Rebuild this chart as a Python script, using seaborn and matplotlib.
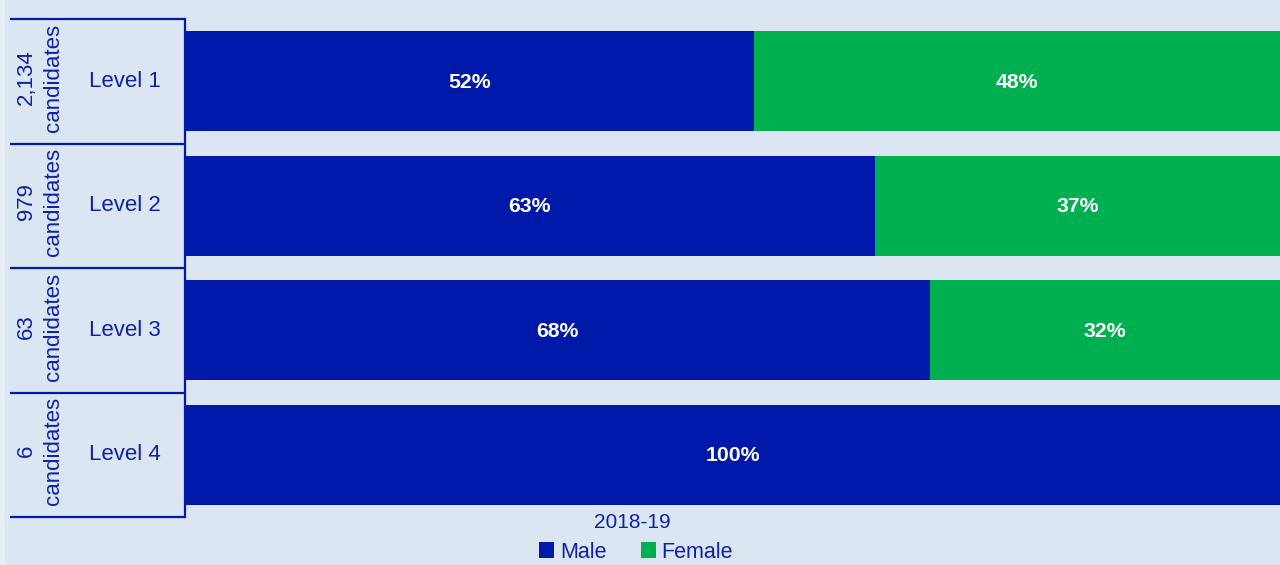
import matplotlib
matplotlib.use("Agg")
import matplotlib.pyplot as plt
import matplotlib.transforms as mtransforms
from matplotlib.patches import Patch, Rectangle
import seaborn as sns
import pandas as pd

# Candidates by level and gender, 2018-19
levels = ["Level 1", "Level 2", "Level 3", "Level 4"]
candidate_counts = ["2,134", "979", "63", "6"]
male_pct = [52, 63, 68, 100]
female_pct = [48, 37, 32, 0]
year_label = "2018-19"
series_names = ["Male", "Female"]

BG = "#dce6f2"
MALE_C = "#0019a8"
FEMALE_C = "#00b050"
INK = "#0d22a6"

sns.set_theme(style="white", rc={"axes.facecolor": BG, "figure.facecolor": BG})
plt.rcParams["font.family"] = ["Liberation Sans", "DejaVu Sans"]

W, H = 1280, 565
fig = plt.figure(figsize=(W / 100, H / 100), dpi=100, facecolor=BG)
# thin pale margin along the left edge
fig.patches.append(Rectangle((0, 0), 5 / W, 1, transform=fig.transFigure,
                             facecolor="#e8eef7", edgecolor="none", zorder=0))
ax = fig.add_axes([185 / W, 1 - 517 / H, 1 - 185 / W, (517 - 19) / H])
ax.set_facecolor(BG)

df = pd.DataFrame({
    "level": levels,
    "male": male_pct,
    "total": [m + f for m, f in zip(male_pct, female_pct)],
})

# Stacked bars: full (male + female) in green, male share drawn over it
sns.barplot(data=df, y="level", x="total", orient="h", color=FEMALE_C,
            saturation=1, width=0.8, ax=ax, linewidth=0)
sns.barplot(data=df, y="level", x="male", orient="h", color=MALE_C,
            saturation=1, width=0.8, ax=ax, linewidth=0)

ax.set_xlim(0, 100)
ax.set_ylim(len(levels) - 0.5, -0.5)
ax.set_xticks([])
ax.set_yticks([])
ax.set_xlabel("")
ax.set_ylabel("")
for side in ["top", "right", "bottom"]:
    ax.spines[side].set_visible(False)
ax.spines["left"].set_color(MALE_C)
ax.spines["left"].set_linewidth(1.6)

# Percentage labels inside each segment
for i, (m, f) in enumerate(zip(male_pct, female_pct)):
    if m > 0:
        ax.text(m / 2, i + 0.01, f"{m}%", ha="center", va="center", color="white",
                fontsize=15.3, fontweight="bold")
    if f > 0:
        ax.text(m + f / 2, i + 0.01, f"{f}%", ha="center", va="center", color="white",
                fontsize=15.3, fontweight="bold")

# Row headers to the left of the bars
trans = mtransforms.blended_transform_factory(ax.transAxes, ax.transData)
ax_w = W - 185
for i, (lvl, n) in enumerate(zip(levels, candidate_counts)):
    ax.text((125 - 185) / ax_w, i, lvl, transform=trans, ha="center",
            va="center", color=INK, fontsize=16, clip_on=False)
    ax.text((40 - 185) / ax_w, i - 0.03, f"{n}\ncandidates", transform=trans,
            ha="center", va="center", rotation=90, multialignment="center",
            color=INK, fontsize=16, linespacing=1.35, clip_on=False)

# Row separator lines across the header area
for b in [i - 0.5 for i in range(len(levels) + 1)]:
    ax.plot([(10 - 185) / ax_w, 0], [b, b], transform=trans, color=MALE_C,
            lw=1.6, clip_on=False, solid_capstyle="butt")

# Period label and legend
fig.text(632 / W, 1 - 522 / H, year_label, ha="center", va="center",
         color=INK, fontsize=15)
handles = [Patch(facecolor=MALE_C, edgecolor="none", label=series_names[0]),
           Patch(facecolor=FEMALE_C, edgecolor="none", label=series_names[1])]
leg = fig.legend(handles=handles, loc="center", bbox_to_anchor=(636 / W, 1 - 552 / H),
                 ncol=2, frameon=False, fontsize=15.5, handlelength=0.7,
                 handleheight=0.7, handletextpad=0.25, columnspacing=1.6,
                 borderpad=0, borderaxespad=0)
for t in leg.get_texts():
    t.set_color(INK)

fig.savefig("out.png", dpi=100, facecolor=BG)
